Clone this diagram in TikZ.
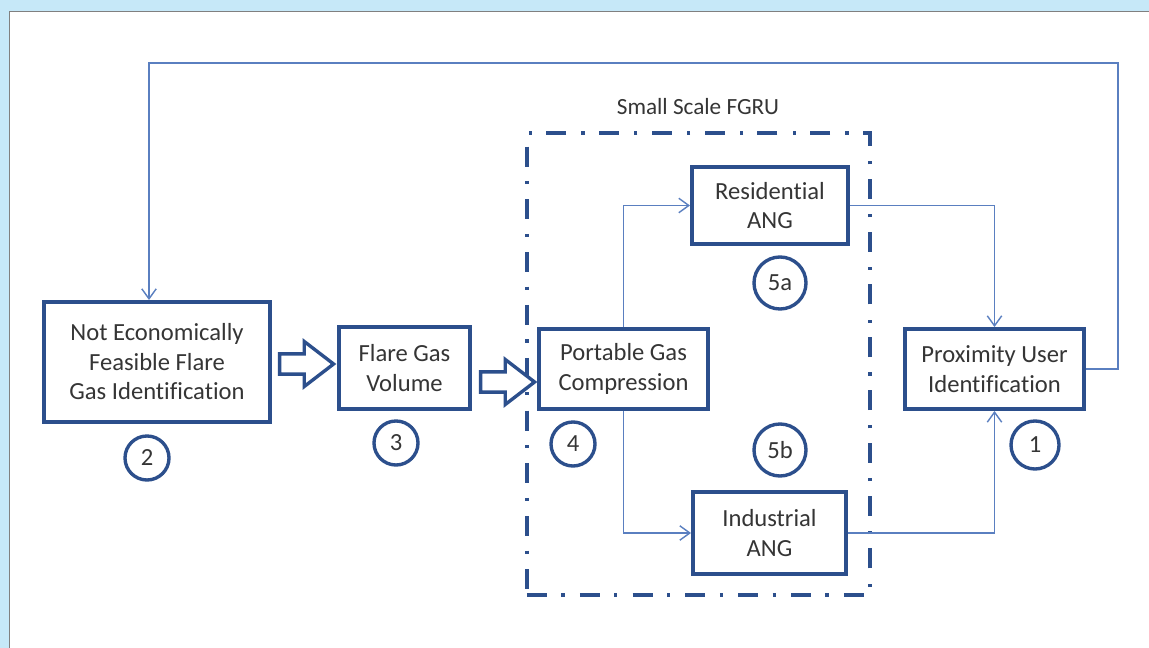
\documentclass[tikz,border=0pt]{standalone}
\usepackage{fontspec}
\setmainfont[Ligatures=NoCommon]{Carlito}
\usetikzlibrary{shapes.arrows,arrows.meta}
\definecolor{boxblue}{HTML}{2C4F8C}
\definecolor{linkblue}{HTML}{5A7FC0}
\definecolor{txtgray}{HTML}{353535}
\definecolor{paneblue}{HTML}{C6E8F8}

\begin{document}
\begin{tikzpicture}[x=0.025cm, y=-0.025cm,
  every node/.style={font=\fontsize{17.5}{21}\selectfont, text=txtgray},
  stage/.style={draw=boxblue, line width=2.8pt, fill=white, align=center, inner sep=2pt},
  tag/.style={draw=boxblue, line width=2.4pt, circle, minimum size=1.1cm, inner sep=0pt},
  link/.style={draw=linkblue, line width=1pt, -{Straight Barb[length=2.5mm,width=3.6mm]}},
  bigarrow/.style={single arrow, draw=boxblue, line width=2.4pt, fill=white, minimum height=1.35cm,
    inner sep=0.21cm, single arrow head extend=0.31cm, single arrow tip angle=75},
  fgru/.style={draw=boxblue, line width=2.6pt, dash pattern=on 0.5cm off 0.36cm on 0.08cm off 0.38cm}]
\useasboundingbox (0,0) rectangle (1149,648);
\fill[paneblue] (0,0) rectangle (1149,648);
\fill[white] (9.5,11.5) rectangle (1149,648);
\draw[gray, line width=1pt] (9.5,648) -- (9.5,11.5) -- (1149,11.5);

\node[fgru, minimum width=8.575cm, minimum height=11.55cm] (fgru) at (698.5,364) {};
\node (fgrulabel) at (698,107) {\fontsize{16.5}{20}\selectfont Small Scale FGRU};

\node[stage, minimum width=5.65cm, minimum height=3cm] (nefg) at (157,362) {Not Economically\\Feasible Flare\\Gas Identification};
\node[stage, minimum width=3.275cm, minimum height=2.05cm] (fgv) at (404.5,368) {Flare Gas\\Volume};
\node[stage, minimum width=4.225cm, minimum height=2cm] (pgc) at (623.5,369) {Portable Gas\\Compression};
\node[stage, minimum width=3.9cm, minimum height=1.925cm] (res) at (770,205.5) {Residential\\ANG};
\node[stage, minimum width=3.825cm, minimum height=2.05cm] (ind) at (769.5,533) {Industrial\\ANG};
\node[stage, minimum width=4.475cm, minimum height=2cm] (pui) at (994.5,369) {Proximity User\\Identification};

\node[tag] (t2) at (147,458) {2};
\node[tag] (t3) at (396,443) {3};
\node[tag] (t4) at (573,444) {4};
\node[tag, minimum size=1.3cm] (t5a) at (780,283) {5a};
\node[tag, minimum size=1.3cm] (t5b) at (780,450) {5b};
\node[tag, minimum size=1.2cm] (t1) at (1035,445) {1};

\node[bigarrow] (a23) at (300,364) {};
\node[bigarrow] (a34) at (501,382) {};

\draw[link] (pgc.north) |- (res.west);
\draw[link] (pgc.south) |- (ind.west);
\draw[link] (res.east) -| (pui.north);
\draw[link] (ind.east) -| (pui.south);
\coordinate (loop) at (1118,63);
\draw[link] (pui.east) -| (loop) -| ([xshift=-0.2cm]nefg.north);
\end{tikzpicture}
\end{document}
